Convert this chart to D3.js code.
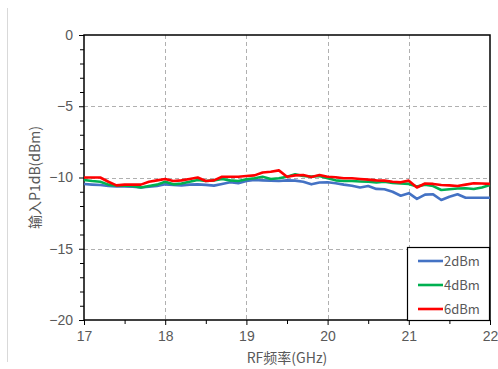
<!DOCTYPE html>
<html>
<head>
<meta charset="utf-8">
<script src="https://cdn.jsdelivr.net/npm/d3@7"></script>
<style>
  html, body { margin: 0; padding: 0; background: #fff; }
  svg { display: block; }
</style>
</head>
<body>
<svg id="chart" width="498" height="369"></svg>
<script>
// Frequency points (GHz)
const freqs = d3.range(0, 51).map(i => +(17 + i * 0.1).toFixed(1));

// Input P1dB (dBm) per drive level
const p2dBm = [-10.46,-10.5,-10.53,-10.6,-10.63,-10.63,-10.65,-10.7,-10.65,-10.6,
  -10.48,-10.52,-10.55,-10.5,-10.48,-10.52,-10.57,-10.45,-10.33,-10.4,
  -10.25,-10.18,-10.2,-10.22,-10.25,-10.2,-10.22,-10.3,-10.48,-10.35,
  -10.33,-10.4,-10.5,-10.58,-10.7,-10.6,-10.8,-10.82,-11.0,-11.28,
  -11.1,-11.5,-11.2,-11.18,-11.58,-11.35,-11.18,-11.42,-11.42,-11.42,-11.42];
const p4dBm = [-10.18,-10.25,-10.3,-10.5,-10.57,-10.57,-10.6,-10.7,-10.6,-10.5,
  -10.3,-10.48,-10.42,-10.3,-10.18,-10.25,-10.2,-10.1,-10.2,-10.25,
  -10.12,-10.05,-9.95,-10.1,-10.05,-9.95,-9.78,-9.9,-9.94,-9.9,
  -10.05,-10.2,-10.25,-10.25,-10.28,-10.3,-10.35,-10.3,-10.38,-10.42,
  -10.45,-10.63,-10.5,-10.6,-10.88,-10.82,-10.77,-10.75,-10.81,-10.7,-10.53];
const p6dBm = [-10.0,-10.0,-10.0,-10.3,-10.55,-10.5,-10.5,-10.5,-10.3,-10.2,
  -10.1,-10.25,-10.2,-10.1,-10.0,-10.25,-10.2,-9.95,-9.95,-9.95,
  -9.9,-9.85,-9.65,-9.6,-9.5,-9.95,-9.85,-9.82,-9.96,-9.82,
  -9.95,-9.98,-10.05,-10.05,-10.1,-10.15,-10.2,-10.22,-10.3,-10.34,
  -10.22,-10.7,-10.42,-10.45,-10.53,-10.55,-10.6,-10.5,-10.4,-10.42,-10.45];

const seriesNames = ["2dBm", "4dBm", "6dBm"];
const seriesColors = ["#4472C4", "#00B050", "#FF0000"];
const seriesValues = [p2dBm, p4dBm, p6dBm];

const xTicks = [17, 18, 19, 20, 21, 22];
const yTicks = [0, -5, -10, -15, -20];
const xTitle = "RF频率(GHz)";
const yTitle = "输入P1dB(dBm)";

const svg = d3.select("#chart");
const plotL = 84, plotR = 490, plotT = 35, plotB = 320;

const x = d3.scaleLinear().domain([17, 22]).range([plotL, plotR]);
const y = d3.scaleLinear().domain([-20, 0]).range([plotB, plotT]);

// Outer chart-area edge
svg.append("line")
  .attr("x1", 7.5).attr("x2", 7.5).attr("y1", 8).attr("y2", 362)
  .attr("stroke", "#d9d9d9").attr("stroke-width", 1);

// Dashed grid
const grid = svg.append("g").attr("stroke", "#b0b0b0").attr("stroke-dasharray", "4,3").attr("stroke-width", 1);
xTicks.slice(1, -1).forEach(t => grid.append("line")
  .attr("x1", Math.round(x(t)) + 0.5).attr("x2", Math.round(x(t)) + 0.5)
  .attr("y1", plotT).attr("y2", plotB));
yTicks.slice(1, -1).forEach(t => grid.append("line")
  .attr("y1", Math.round(y(t)) + 0.5).attr("y2", Math.round(y(t)) + 0.5)
  .attr("x1", plotL).attr("x2", plotR));

// Axes
const fontLatin = "'Liberation Sans', Arial, sans-serif";
const xAxis = d3.axisBottom(x).tickValues(xTicks).tickSize(5).tickPadding(6).tickFormat(d3.format("d"));
const xMinor = d3.axisBottom(x).tickValues(d3.range(17.5, 22, 1)).tickSize(4).tickFormat("");
const yAxis = d3.axisLeft(y).tickValues(yTicks).tickSize(5).tickPadding(6).tickFormat(d => d3.format("d")(d).replace("-", "−"));
const yMinor = d3.axisLeft(y).tickValues(d3.range(-19, 0, 1).filter(v => v % 5 !== 0)).tickSize(4).tickFormat("");

function styleAxis(g) {
  g.select(".domain").remove();
  g.selectAll("line").attr("stroke", "#000").attr("stroke-width", 1);
  g.selectAll("text").attr("fill", "#595959").style("font-family", fontLatin).style("font-size", "14px");
}
svg.append("g").attr("transform", `translate(0,${plotB})`).call(xAxis).call(styleAxis);
svg.append("g").attr("transform", `translate(0,${plotB})`).call(xMinor).call(styleAxis);
svg.append("g").attr("transform", `translate(${plotL},0)`).call(yAxis).call(styleAxis);
svg.append("g").attr("transform", `translate(${plotL},0)`).call(yMinor).call(styleAxis);

// Frame
svg.append("rect")
  .attr("x", plotL).attr("y", plotT).attr("width", plotR - plotL).attr("height", plotB - plotT)
  .attr("fill", "none").attr("stroke", "#000").attr("stroke-width", 1.5);

// Series lines
const line = d3.line().x((d, i) => x(freqs[i])).y(d => y(d));
seriesValues.forEach((vals, k) => {
  svg.append("path").datum(vals)
    .attr("d", line)
    .attr("fill", "none")
    .attr("stroke", seriesColors[k])
    .attr("stroke-width", 2.6)
    .attr("stroke-linejoin", "round");
});

// Axis titles
svg.append("text")
  .attr("x", x(19.5)).attr("y", 363)
  .attr("text-anchor", "middle")
  .attr("fill", "#595959")
  .style("font-family", "'Noto Sans CJK SC', sans-serif")
  .style("font-size", "14px")
  .text(xTitle);
svg.append("text")
  .attr("transform", `translate(40,${(plotT + plotB) / 2}) rotate(-90)`)
  .attr("text-anchor", "middle")
  .attr("fill", "#595959")
  .style("font-family", "'Noto Sans CJK SC', sans-serif")
  .style("font-size", "14px")
  .text(yTitle);

// Legend
const lg = svg.append("g");
lg.append("rect")
  .attr("x", 407.5).attr("y", 247.5).attr("width", 82).attr("height", 73)
  .attr("fill", "#fff").attr("stroke", "#000").attr("stroke-width", 1.2);
seriesNames.forEach((name, k) => {
  const cy = 261 + k * 24;
  lg.append("line")
    .attr("x1", 418).attr("x2", 443).attr("y1", cy).attr("y2", cy)
    .attr("stroke", seriesColors[k]).attr("stroke-width", 2.6);
  lg.append("text")
    .attr("x", 444).attr("y", cy + 5)
    .attr("fill", "#595959")
    .style("font-family", "'Noto Sans CJK SC', sans-serif")
    .style("font-size", "13px")
    .text(name);
});
</script>
</body>
</html>
